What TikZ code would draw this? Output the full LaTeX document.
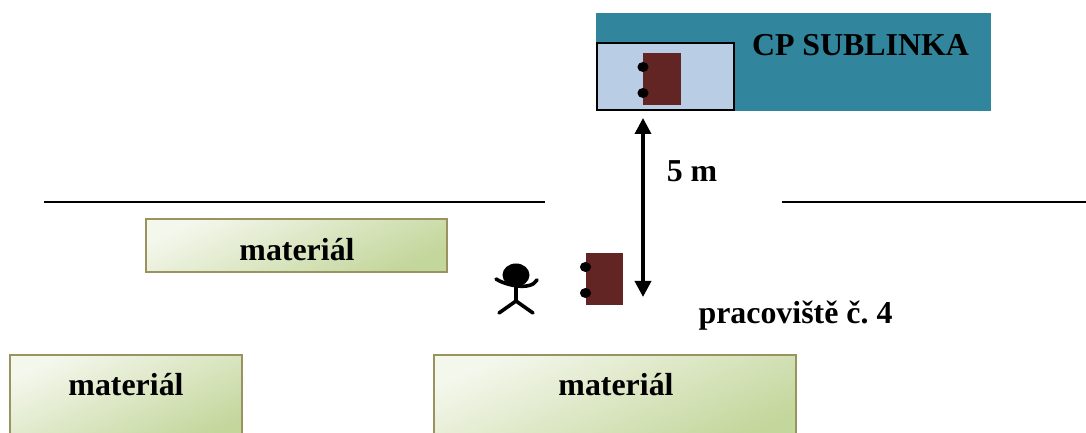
\documentclass[tikz,border=0pt]{standalone}
\usepackage{fontspec}
\setmainfont{Liberation Serif}
\usetikzlibrary{arrows.meta}
\definecolor{teal1}{HTML}{31859C}
\definecolor{panel}{HTML}{B9CDE5}
\definecolor{machine}{HTML}{632523}
\definecolor{matedge}{HTML}{98935F}
\definecolor{matlight}{HTML}{F4F7EC}
\definecolor{matdark}{HTML}{C3D69B}
\tikzset{
  x=1bp,y=-1bp,
  lbl/.style={font=\bfseries\fontsize{32}{34}\selectfont\frenchspacing,inner sep=0pt,text=black},
  matbox/.style={draw=matedge,line width=2.2bp,shading=axis,top color=matlight,bottom color=matdark,shading angle=25,anchor=north west,inner sep=0pt},
  machinebox/.style={fill=machine,draw=none},
  dot/.style={fill=black,draw=none},
  wall/.style={draw=black,line width=2.8bp},
  man/.style={draw=black,line width=3.6bp,line cap=round},
}
\begin{document}
\begin{tikzpicture}
\useasboundingbox (0,0) rectangle (1086,433);
% sublinka
\fill[teal1] (596,13) rectangle (991,111);
\draw[fill=panel,draw=black,line width=2.8bp] (597,43) rectangle (734,110);
\node[lbl] (cp) at (860.5,45.5) {CP SUBLINKA};
% top machine
\fill[machinebox] (643,53) rectangle (681,105);
\fill[dot] (643,67) ellipse [x radius=5.6,y radius=5];
\fill[dot] (643,93) ellipse [x radius=5.6,y radius=5];
% walls
\draw[wall] (44,202) -- (545,202);
\draw[wall] (782,202) -- (1086,202);
% dimension
\coordinate (dimtop) at (643,118);
\coordinate (dimbot) at (643,297);
\draw[line width=3.6bp,{Triangle[length=16bp,width=16bp]}-{Triangle[length=16bp,width=16bp]}] (dimtop) -- (dimbot);
\node[lbl] (dist) at (692,171) {5 m};
% bottom machine
\fill[machinebox] (586,253) rectangle (623,305);
\fill[dot] (585.5,267) ellipse [x radius=5.6,y radius=5];
\fill[dot] (585.5,293) ellipse [x radius=5.6,y radius=5];
% person
\fill[black] (516,275) ellipse [x radius=13.5,y radius=11.5];
\draw[man] (496,279) .. controls (503,284) and (530,292) .. (537,280);
\draw[man] (516,285) -- (516,301);
\draw[man] (499,313) -- (516,301) -- (533,313);
\node[lbl] (place) at (795.5,315.5) {pracoviště č. 4};
% material
\node[matbox,minimum width=301bp,minimum height=53bp] (m1) at (145,218) {};
\node[lbl] (t1) at (297,250) {materiál};
\node[matbox,minimum width=232bp,minimum height=90bp] (m2) at (9,354) {};
\node[lbl] (t2) at (126,385) {materiál};
\node[matbox,minimum width=362bp,minimum height=90bp] (m3) at (433,354) {};
\node[lbl] (t3) at (616,385) {materiál};
\end{tikzpicture}
\end{document}
